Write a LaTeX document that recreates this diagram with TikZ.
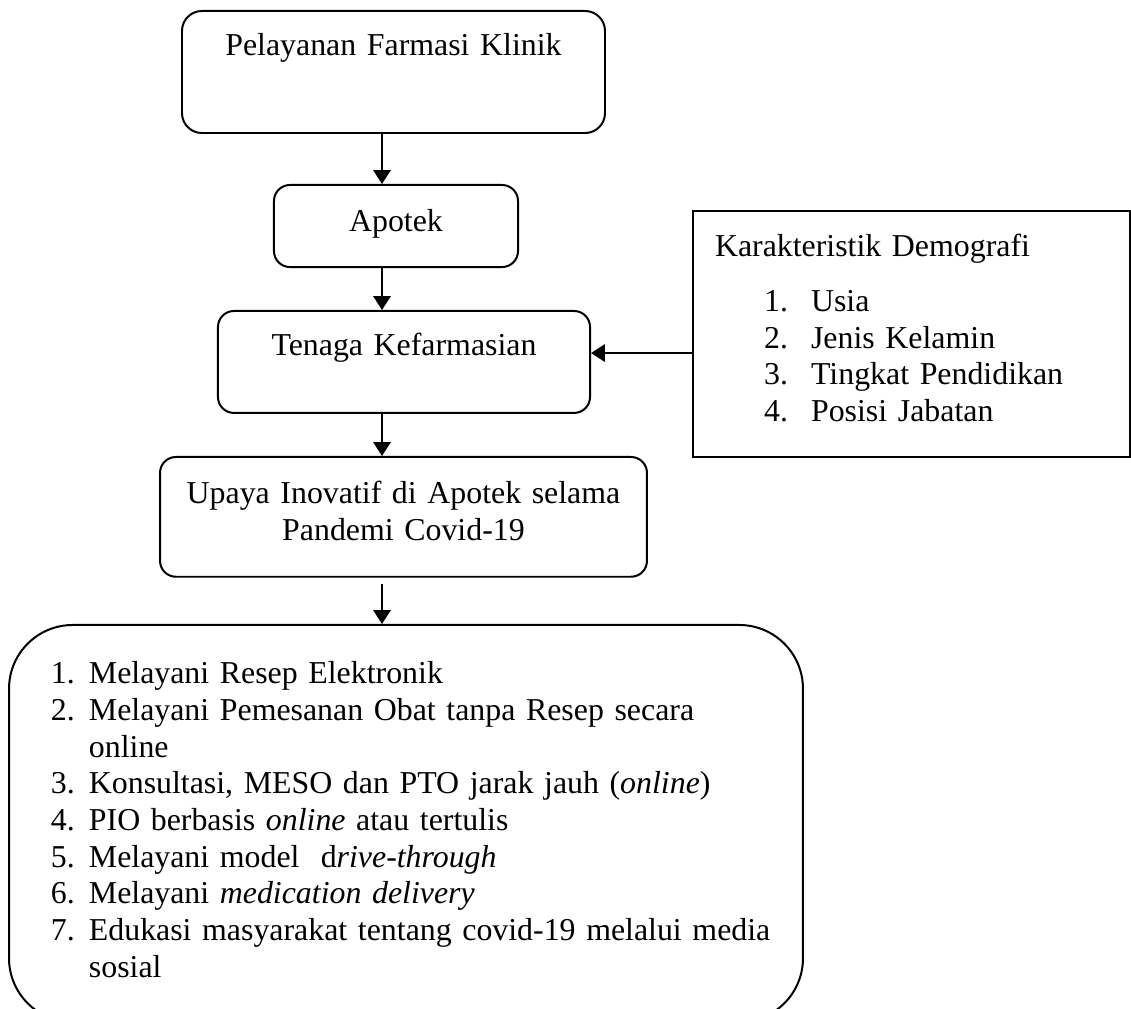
\documentclass[tikz,border=0pt]{standalone}
\usepackage{fontspec}
\setmainfont{Liberation Serif}
\usetikzlibrary{arrows.meta}
\newcommand{\numline}[3]{\mbox{\makebox[#1][l]{#2}#3}}

\begin{document}
\begin{tikzpicture}[x=0.3766pt, y=-0.3766pt,
    box/.style = {draw, line width=0.75pt, rounded corners=6pt, anchor=north, align=center, inner xsep=0pt, inner ysep=0pt, font=\fontsize{12pt}{13.8pt}\selectfont},
    panel/.style = {draw, line width=0.75pt, anchor=north, align=left, inner ysep=0pt, font=\fontsize{12pt}{13.8pt}\selectfont},
    arr/.style = {-{Triangle[length=5.2pt, width=6.5pt]}, line width=0.75pt}]
          \useasboundingbox (0,0) rectangle (1131,1009);
          \coordinate (axis) at (382,0);
          \node[box, rounded corners=7.5pt, text width=159.3pt, text height=16.95pt, text depth=29pt] (klinik) at (393.5,10) {Pelayanan Farmasi Klinik};
          \node[box, text width=91.9pt, text height=17.4pt, text depth=13.5pt] (apotek) at (396,184) {Apotek};
          \node[box, text width=140.1pt, text height=16.6pt, text depth=21.8pt] (tenaga) at (404,310) {Tenaga Kefarmasian};
          \node[box, text width=183.4pt, text height=17.6pt, text depth=27.5pt] (upaya) at (403.5,456) {Upaya Inovatif di Apotek selama\\Pandemi Covid-19};
          \node[panel, inner xsep=8.3pt, text width=148pt, text height=17.2pt, text depth=75.4pt] (demo) at (911.5,210) {Karakteristik Demografi\\[6.9pt]
            \hspace*{18.5pt}\numline{17.7pt}{1.}{Usia}\\
            \hspace*{18.5pt}\numline{17.7pt}{2.}{Jenis Kelamin}\\
            \hspace*{18.5pt}\numline{17.7pt}{3.}{Tingkat Pendidikan}\\
            \hspace*{18.5pt}\numline{17.7pt}{4.}{Posisi Jabatan}};
          \node[box, rounded corners=24pt, align=left, inner xsep=15.8pt, text width=267.4pt, text height=22.2pt, text depth=127.3pt] (layanan) at (406,624) {\numline{14.3pt}{1.}{Melayani Resep Elektronik}\\
            \numline{14.3pt}{2.}{Melayani Pemesanan Obat tanpa Resep secara}\\
            \numline{14.3pt}{}{online}\\
            \numline{14.3pt}{3.}{Konsultasi, MESO dan PTO jarak jauh (\textit{online})}\\
            \numline{14.3pt}{4.}{PIO berbasis \textit{online} atau tertulis}\\
            \numline{14.3pt}{5.}{Melayani model~ d\textit{rive-through}}\\
            \numline{14.3pt}{6.}{Melayani \textit{medication delivery}}\\
            \numline{14.3pt}{7.}{Edukasi masyarakat tentang covid-19 melalui media}\\
            \numline{14.3pt}{}{sosial}};
          \draw[arr] (klinik.south -| axis) -- (apotek.north -| axis);
          \draw[arr] (apotek.south -| axis) -- (tenaga.north -| axis);
          \draw[arr] (tenaga.south -| axis) -- (upaya.north -| axis);
          \draw[arr, shorten <=2.3pt] (upaya.south -| axis) -- (layanan.north -| axis);
          \draw[arr] ([yshift=-7.2pt]demo.west) coordinate (feed) -- (feed -| tenaga.east);
        \end{tikzpicture}
\end{document}
